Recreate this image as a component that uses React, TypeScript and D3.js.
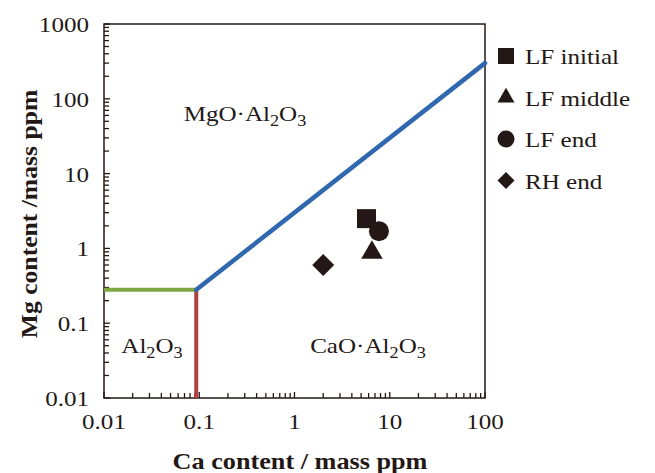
import React, { useEffect, useRef } from "react";
import * as d3 from "d3";

// phase boundary lines (Ca, Mg in mass ppm)
const boundaryAl2O3Top = [[0.01, 0.28], [0.093, 0.28]];
const boundaryAl2O3Right = [[0.093, 0.01], [0.093, 0.28]];
const boundarySpinelCa = [[0.093, 0.28], [100, 300]];

// measured points
const series = ["LF initial", "LF middle", "LF end", "RH end"];
const caValues = [5.7, 6.5, 7.7, 2.0];
const mgValues = [2.5, 0.88, 1.7, 0.6];
const symbols = [d3.symbolSquare, d3.symbolTriangle, d3.symbolCircle, d3.symbolSquare];
const symbolRotate = [0, 0, 0, 45];
const symbolSizes = [361, 200, 314, 242];
const legendSizes = [256, 125, 227, 145];

const xTicks = [0.01, 0.1, 1, 10, 100];
const yTicks = [0.01, 0.1, 1, 10, 100, 1000];
const tickLabels = (v: number) => String(v);

export default function App() {
  const ref = useRef<SVGSVGElement>(null);

  useEffect(() => {
    const svg = d3.select(ref.current);
    svg.selectAll("*").remove();

    const margin = { top: 24, right: 170, bottom: 75, left: 104 };
    const width = 655 - margin.left - margin.right;
    const height = 473 - margin.top - margin.bottom;
    const font = "'Liberation Serif', 'Times New Roman', serif";
    const ink = "#231815";
    const stretch = 1.14;

    const g = svg.append("g").attr("transform", "translate(" + margin.left + "," + margin.top + ")");

    // text drawn a little wider, like the original figure
    const addText = (parent: any, px: number, py: number, anchor: string, size: number, rot = 0) =>
      parent.append("g")
        .attr("transform", "translate(" + px + "," + py + ") rotate(" + rot + ") scale(" + stretch + ",1)")
        .append("text")
        .attr("text-anchor", anchor).attr("font-family", font).attr("font-size", size)
        .attr("fill", ink);

    const x = d3.scaleLog().domain([0.01, 100]).range([0, width]);
    const y = d3.scaleLog().domain([0.01, 1000]).range([height, 0]);

    // minor + major ticks, pointing inward
    const xAll: number[] = [];
    for (let e = -2; e < 2; e++) for (let k = 1; k < 10; k++) xAll.push(k * Math.pow(10, e));
    xAll.push(100);
    const yAll: number[] = [];
    for (let e = -2; e < 3; e++) for (let k = 1; k < 10; k++) yAll.push(k * Math.pow(10, e));
    yAll.push(1000);

    g.selectAll(".xt").data(xAll).enter().append("line")
      .attr("x1", d => x(d)).attr("x2", d => x(d))
      .attr("y1", height).attr("y2", (d, i) => height - (i % 9 === 0 ? 6 : 5))
      .attr("stroke", ink).attr("stroke-width", 1.3);
    g.selectAll(".yt").data(yAll).enter().append("line")
      .attr("y1", d => y(d)).attr("y2", d => y(d))
      .attr("x1", 0).attr("x2", (d, i) => (i % 9 === 0 ? 6 : 5))
      .attr("stroke", ink).attr("stroke-width", 1.3);

    g.append("rect").attr("width", width).attr("height", height)
      .attr("fill", "none").attr("stroke", ink).attr("stroke-width", 1.5);

    xTicks.forEach(v => addText(g, x(v), height + 31, "middle", 22).text(tickLabels(v)));
    yTicks.forEach(v => addText(g, -15, y(v) + 8, "end", 22).text(tickLabels(v)));

    const line = d3.line<number[]>().x(d => x(d[0])).y(d => y(d[1]));
    g.append("path").datum(boundaryAl2O3Top).attr("d", line)
      .attr("stroke", "#7fa640").attr("stroke-width", 4).attr("fill", "none");
    g.append("path").datum(boundaryAl2O3Right).attr("d", line)
      .attr("stroke", "#b0413c").attr("stroke-width", 4).attr("fill", "none");
    g.append("path").datum(boundarySpinelCa).attr("d", line)
      .attr("stroke", "#2f68ae").attr("stroke-width", 4.5).attr("fill", "none")
      .attr("stroke-linecap", "round");

    series.forEach((s, i) => {
      g.append("path")
        .attr("d", d3.symbol().type(symbols[i]).size(symbolSizes[i])())
        .attr("transform", "translate(" + x(caValues[i]) + "," + y(mgValues[i]) + ") rotate(" + symbolRotate[i] + ")")
        .attr("fill", ink);
    });

    // region labels with subscripts
    const label = (px: number, py: number, parts: [string, boolean][]) => {
      const t = addText(g, px, py, "middle", 22);
      let shift = 0;
      parts.forEach(([txt, sub]) => {
        const want = sub ? 5 : 0;
        t.append("tspan").attr("font-size", sub ? 16 : 22)
          .attr("dy", want - shift).text(txt);
        shift = want;
      });
    };
    label(141, 97, [["MgO·Al", false], ["2", true], ["O", false], ["3", true]]);
    label(48, 329, [["Al", false], ["2", true], ["O", false], ["3", true]]);
    label(264, 329, [["CaO·Al", false], ["2", true], ["O", false], ["3", true]]);

    // legend
    series.forEach((s, i) => {
      const ly = 56 + i * 41.5;
      svg.append("path")
        .attr("d", d3.symbol().type(symbols[i]).size(legendSizes[i])())
        .attr("transform", "translate(506," + ly + ") rotate(" + symbolRotate[i] + ")")
        .attr("fill", ink);
      addText(svg, 525, ly + 8, "start", 22).text(s);
    });

    addText(svg, 300, 469, "middle", 23).attr("font-weight", "bold").text("Ca content / mass ppm");
    addText(svg, 37, 214, "middle", 22.5, -90).attr("font-weight", "bold").text("Mg content /mass ppm");
  }, []);

  return (
    <svg ref={ref} width={655} height={473}
      style={{ position: "absolute", left: 0, top: 0, background: "#fff" }} />
  );
}
